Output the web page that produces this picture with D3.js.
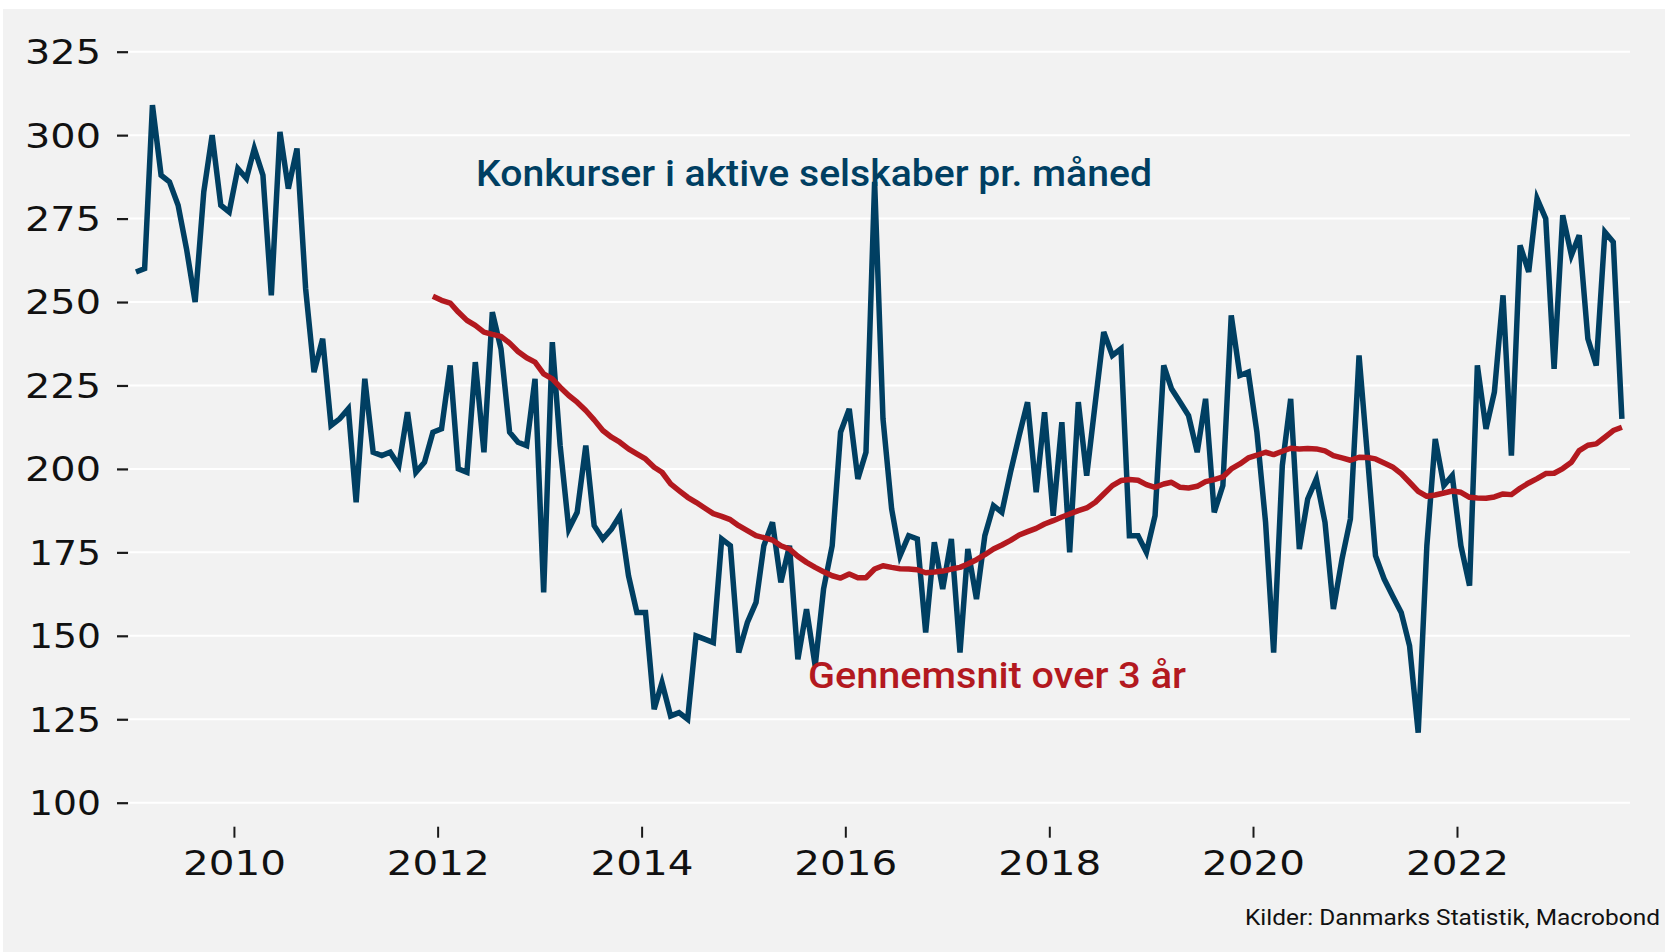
<!DOCTYPE html>
<html>
<head>
<meta charset="utf-8">
<script src="https://cdn.jsdelivr.net/npm/d3@7/dist/d3.min.js"></script>
<style>
  html, body { margin: 0; padding: 0; background: #ffffff; }
  svg { display: block; }
</style>
</head>
<body>
<svg id="chart" width="1665" height="952"></svg>
<script>
// ---------------- DATA ----------------
// Monthly bankruptcies in active companies, starting January 2009
const seriesStart = [2009, 0];
const bankruptcies = [
  259, 260, 309, 288, 286, 279, 266, 250, 283, 300, 279, 277,
  290, 287, 296, 288, 252, 301, 284, 296, 254, 229, 239, 213,
  215, 218, 190, 227, 205, 204, 205, 201, 217, 199, 202, 211,
  212, 231, 200, 199, 232, 205, 247, 236, 211, 208, 207, 227,
  163, 238, 207, 182, 187, 207, 183, 179, 182, 186, 168, 157,
  157, 128, 136, 126, 127, 125, 150, 149, 148, 179, 177, 145,
  154, 160, 177, 184, 166, 177, 143, 158, 141, 164, 177, 211,
  218, 197, 205, 286, 215, 188, 174, 180, 179, 151, 178, 164,
  179, 145, 176, 161, 180, 189, 187, 199, 210, 220, 193, 217,
  186, 214, 175, 220, 198, 220, 241, 234, 236, 180, 180, 175,
  186, 231, 224, 220, 216, 205, 221, 187, 195, 246, 228, 229,
  211, 184, 145, 201, 221, 176, 191, 197, 184, 158, 173, 185,
  234, 203, 174, 167, 162, 157, 147, 121, 177, 209, 195, 198,
  177, 165, 231, 212, 223, 252, 204, 267, 259, 281, 275, 230,
  276, 264, 270, 239, 231, 271, 268, 215
];
// 3-year average, starting December 2011
const averageStart = [2011, 11];
const average3y = [
  251.7,
  250.5, 249.7, 247.0, 244.5, 243.0, 241.0, 240.3, 239.7, 237.7, 235.2, 233.3, 232.0,
  228.5, 227.0, 224.5, 222.0, 220.0, 217.5, 214.7, 211.5, 209.5, 208.0, 206.0, 204.5,
  203.0, 200.5, 199.0, 195.5, 193.5, 191.5, 190.0, 188.3, 186.6, 185.8, 184.8, 183.0,
  181.5, 180.0, 179.4, 178.7, 177.0, 176.0, 173.8, 172.0, 170.5, 169.2, 168.0, 167.3,
  168.5, 167.4, 167.4, 170.0, 171.0, 170.5, 170.1, 170.0, 169.8, 168.9, 169.1, 169.4,
  170.0, 170.5, 171.5, 172.8, 174.3, 176.0, 177.2, 178.6, 180.2, 181.2, 182.2, 183.5,
  184.5, 185.6, 186.5, 187.5, 188.3, 190.0, 192.5, 195.0, 196.5, 196.8, 196.6, 195.3,
  194.5, 195.5, 196.0, 194.5, 194.3, 194.8, 196.2, 196.8, 197.6, 200.0, 201.5, 203.3,
  204.1, 205.0, 204.3, 205.3, 206.2, 206.0, 206.1, 206.0, 205.4, 204.0, 203.3, 202.6,
  203.5, 203.4, 203.0, 201.8, 200.6, 198.6, 196.0, 193.3, 191.8, 192.2, 192.8, 193.4,
  193.0, 191.5, 191.3, 191.2, 191.6, 192.5, 192.3, 194.2, 195.8, 197.1, 198.6, 198.7,
  200.1, 202.0, 205.5, 207.1, 207.5, 209.5, 211.5, 212.5
];
const yTickValues = [100, 125, 150, 175, 200, 225, 250, 275, 300, 325];
const xTickYears = [2010, 2012, 2014, 2016, 2018, 2020, 2022];
const labelSeries = "Konkurser i aktive selskaber pr. måned";
const labelAverage = "Gennemsnit over 3 år";
const sourceText = "Kilder: Danmarks Statistik, Macrobond";

// ---------------- STYLE / LAYOUT ----------------
const W = 1665, H = 952;
const plot = { left: 129, right: 1630, top: 51.7, bottom: 802.7 };
const colBlue = "#003f62";
const colRed = "#b3191f";
const colBg = "#f2f2f2";
const tickFont = "'DejaVu Sans', sans-serif";
const labelFont = "Roboto, 'Noto Sans', sans-serif";

const svg = d3.select("#chart");

svg.append("rect").attr("x", 3).attr("y", 9).attr("width", W - 3).attr("height", H - 9)
  .attr("fill", colBg);

const x = d3.scaleTime()
  .domain([new Date(2008, 11, 21), new Date(2023, 8, 13)])
  .range([plot.left, plot.right]);
const y = d3.scaleLinear().domain([100, 325]).range([plot.bottom, plot.top]);

// grid lines
svg.append("g").selectAll("line").data(yTickValues).join("line")
  .attr("x1", plot.left).attr("x2", plot.right)
  .attr("y1", d => y(d)).attr("y2", d => y(d))
  .attr("stroke", "#ffffff").attr("stroke-width", 2);

// y axis (ticks as small dashes, labels to the left)
const yAxis = d3.axisLeft(y).tickValues(yTickValues).tickSize(11).tickPadding(16);
const gy = svg.append("g").attr("transform", `translate(${plot.left - 1},0)`).call(yAxis);
gy.select(".domain").remove();
gy.selectAll(".tick line").attr("stroke", "#1a1a1a").attr("stroke-width", 2.2);
gy.selectAll(".tick text")
  .attr("fill", "#111").attr("font-family", tickFont).attr("font-size", 33)
  .attr("dy", "0.36em")
  .attr("textLength", d => (String(d)[0] === "1" ? 72 : 76))
  .attr("lengthAdjust", "spacingAndGlyphs");

// x axis
const xAxis = d3.axisBottom(x)
  .tickValues(xTickYears.map(yr => new Date(yr, 0, 1)))
  .tickFormat(d3.timeFormat("%Y"))
  .tickSize(11).tickPadding(14);
const gx = svg.append("g").attr("transform", `translate(0,${plot.bottom + 24})`).call(xAxis);
gx.select(".domain").remove();
gx.selectAll(".tick line").attr("stroke", "#1a1a1a").attr("stroke-width", 2);
gx.selectAll(".tick text")
  .attr("fill", "#111").attr("font-family", tickFont).attr("font-size", 33)
  .attr("dy", "0.71em")
  .attr("textLength", 103).attr("lengthAdjust", "spacingAndGlyphs");

// lines
const monthDate = (start, i) => new Date(start[0], start[1] + i, 15);
const lineGen = start => d3.line()
  .x((d, i) => x(monthDate(start, i)))
  .y(d => y(d));

svg.append("path").datum(bankruptcies)
  .attr("d", lineGen(seriesStart))
  .attr("fill", "none").attr("stroke", colBlue).attr("stroke-width", 5.5)
  .attr("stroke-linejoin", "miter").attr("stroke-miterlimit", 4);

svg.append("path").datum(average3y)
  .attr("d", lineGen(averageStart))
  .attr("fill", "none").attr("stroke", colRed).attr("stroke-width", 5.5)
  .attr("stroke-linejoin", "round");

// annotations
function fitText(sel, width) {
  sel.attr("textLength", width).attr("lengthAdjust", "spacingAndGlyphs");
}
const t1 = svg.append("text").attr("x", 476).attr("y", 186)
  .attr("fill", colBlue).attr("font-family", labelFont).attr("font-size", 37)
  .attr("font-weight", 500)
  .text(labelSeries);
fitText(t1, 676);

const t2 = svg.append("text").attr("x", 808).attr("y", 688)
  .attr("fill", colRed).attr("font-family", labelFont).attr("font-size", 37)
  .attr("font-weight", 500)
  .text(labelAverage);
fitText(t2, 378);

const t3 = svg.append("text").attr("x", 1245).attr("y", 925)
  .attr("fill", "#111").attr("font-family", labelFont).attr("font-size", 22)
  .text(sourceText);
fitText(t3, 415);
</script>
</body>
</html>
